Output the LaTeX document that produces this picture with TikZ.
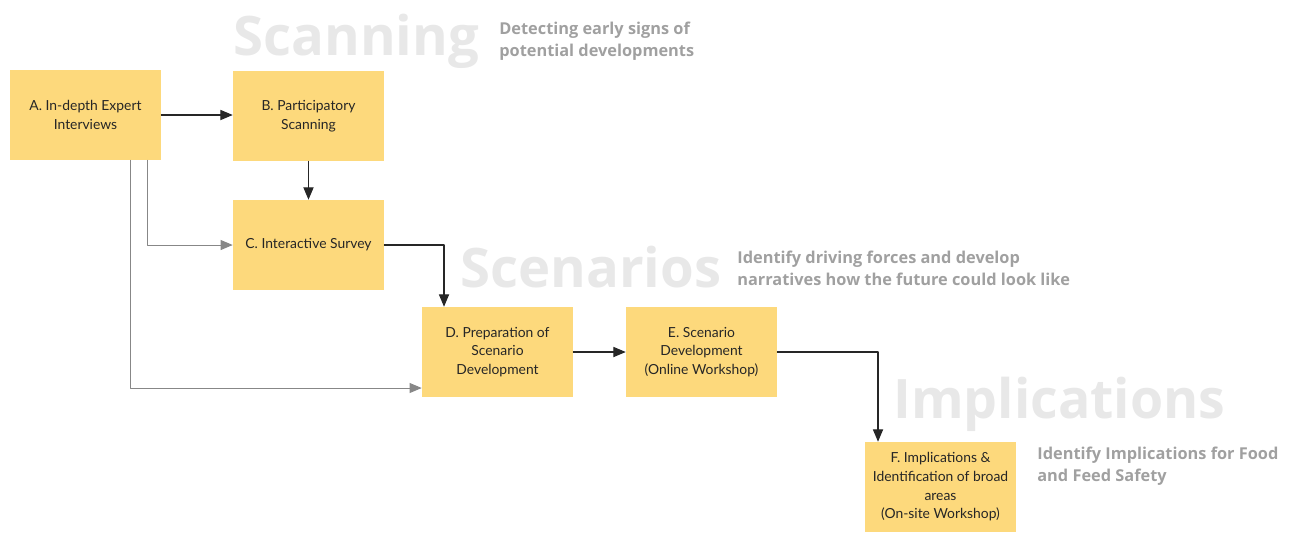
\documentclass[tikz,border=0pt]{standalone}
\usepackage{fontspec}
\setmainfont{Lato}
\newfontfamily\headfont{Open Sans}
\usetikzlibrary{arrows}
\definecolor{boxfill}{RGB}{253,217,124}
\definecolor{phasegray}{RGB}{232,232,232}
\definecolor{notegray}{RGB}{160,160,160}
\definecolor{linkgray}{RGB}{135,135,135}

\begin{document}
\begin{tikzpicture}[line cap=round,line join=round,>=triangle 45,x=0.02cm,y=-0.02cm,
	box/.style={fill=boxfill,minimum width=3.02cm,minimum height=1.8cm,align=center,inner sep=1pt,
		font=\fontsize{7.9}{10.6}\selectfont,text=black!85},
	flow/.style={->,line width=0.6pt,black!85},
	side/.style={->,line width=0.55pt,linkgray},
	phase/.style={anchor=base west,inner sep=0pt,text=phasegray,font=\headfont\fontsize{31}{31}\selectfont\bfseries},
	note/.style={anchor=west,inner sep=0pt,align=left,text=notegray,font=\headfont\fontsize{9.3}{12.5}\selectfont\bfseries}]
	\useasboundingbox (0,0) rectangle (1291,532);
	% Phasen
	\node[phase] (scan) at (233,55) {Scanning};
	\node[note] (scannote) at (499,41) {Detecting early signs of\\potential developments};
	\node[phase] (scen) at (460,287) {Scenarios};
	\node[note] (scennote) at (737,268) {Identify driving forces and develop\\narratives how the future could look like};
	\node[phase,xscale=0.985] (impl) at (893,418) {Implications};
	\node[note] (implnote) at (1037,466) {Identify Implications for Food\\and Feed Safety};
	% Schritte
	\node[box] (A) at (85.5,115) {A. In-depth Expert\\Interviews};
	\node[box] (B) at (308.5,116) {B. Participatory\\Scanning};
	\node[box] (C) at (308.5,245) {C. Interactive Survey};
	\node[box] (D) at (497.5,352) {D. Preparation of\\Scenario\\Development};
	\node[box] (E) at (701.5,352) {E. Scenario\\Development\\(Online Workshop)};
	\node[box] (F) at (940.5,487) {F. Implications \&\\Identification of broad\\areas\\(On-site Workshop)};
	% Verbindungen
	\draw[flow] (A.east) -- (A.east -| B.west);
	\draw[flow] (B.south) -- (C.north);
	\draw[side] ([xshift=1.23cm]A.south) |- (C.west);
	\draw[side] ([xshift=0.89cm]A.south) |- ([yshift=-0.72cm]D.west);
	\draw[flow] (C.east) -| ([xshift=-1.07cm]D.north);
	\draw[flow] (D.east) -- (E.west);
	\draw[flow] (E.east) -| ([xshift=-1.25cm]F.north);
\end{tikzpicture}
\end{document}
